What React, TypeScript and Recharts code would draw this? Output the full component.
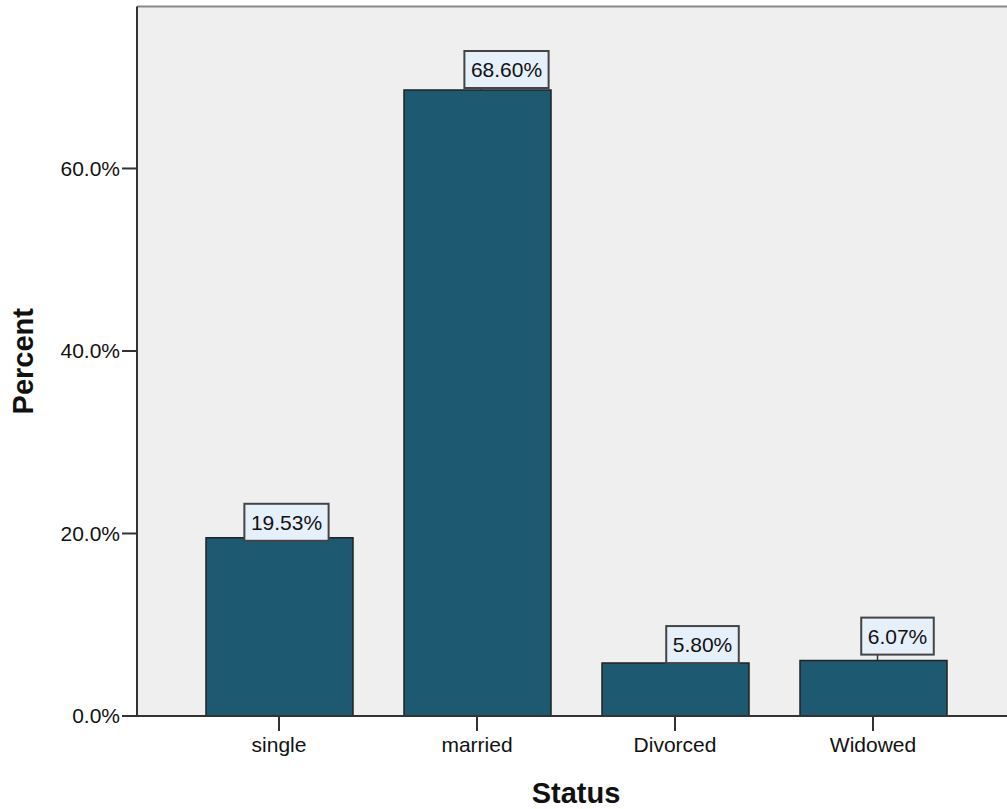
import { Bar, BarChart, CartesianGrid, LabelList, ReferenceLine, XAxis, YAxis } from 'recharts'

const categories = ['single', 'married', 'Divorced', 'Widowed']
const percents = [19.53, 68.6, 5.8, 6.07]
const yTicks = [0, 20, 40, 60]
const yMax = 77.75

const data = categories.map((status, i) => ({ status, percent: percents[i] }))

// where each value box sits: centre shift from the bar centre, gap above the bar top
const labelNudge = [
  { dx: 7, gap: -3 },
  { dx: 29, gap: 2 },
  { dx: 27, gap: 0 },
  { dx: 24, gap: 6 },
]

const FONT = '"Liberation Sans", Arial, sans-serif'
const BAR_FILL = '#1D5A72'
const INK = '#111'

const textWidth = (s: string, size: number) => {
  const ctx = document.createElement('canvas').getContext('2d')
  if (ctx) {
    ctx.font = `${size}px ${FONT}`
    return ctx.measureText(s).width
  }
  return s.length * size * 0.56
}

const BoxLabel = (props: any) => {
  const vb = props.viewBox ?? props
  const x = vb.x ?? props.x
  const y = vb.y ?? props.y
  const width = vb.width ?? props.width
  const index = props.index ?? 0
  const label = `${Number(props.value).toFixed(2)}%`
  const { dx, gap } = labelNudge[index] ?? { dx: 0, gap: 0 }
  const cx = x + width / 2
  const w = textWidth(label, 21) + 13
  const h = 37
  const bottom = y - gap
  return (
    <g>
      {gap > 0 && <line x1={cx + 4} y1={y} x2={cx + 4} y2={bottom} stroke="#333" strokeWidth={1.5} />}
      <rect x={cx + dx - w / 2} y={bottom - h} width={w} height={h} fill="#E6F0FA" stroke="#444" strokeWidth={2} />
      <text x={cx + dx} y={bottom - h / 2} dy="0.36em" textAnchor="middle" fontSize={21} fontFamily={FONT} fill={INK}>
        {label}
      </text>
    </g>
  )
}

const YTitle = (props: any) => {
  const vb = props.viewBox
  const cy = vb.y + vb.height / 2
  return (
    <text x={33} y={cy} transform={`rotate(-90, 33, ${cy})`} textAnchor="middle" fontSize={29} fontWeight="bold" fontFamily={FONT} fill={INK}>
      Percent
    </text>
  )
}

const XTitle = (props: any) => {
  const vb = props.viewBox
  return (
    <text x={vb.x + vb.width / 2} y={803} textAnchor="middle" fontSize={29} fontWeight="bold" fontFamily={FONT} fill={INK}>
      Status
    </text>
  )
}

const App = () => {
  return (
    <div style={{ position: 'absolute', left: 0, top: 0, width: 1007, height: 809, overflow: 'hidden', background: '#fff' }}>
      <BarChart width={1016} height={809} data={data} margin={{ top: 6.5, right: 1, bottom: 0, left: 0 }} barSize={147}>
        <CartesianGrid fill="#EFEFEF" horizontal={false} vertical={false} />
        <ReferenceLine y={yMax} stroke="#8a8a8a" strokeWidth={2} />
        <XAxis
          dataKey="status"
          height={93}
          padding={{ left: 43, right: 43 }}
          tickSize={15}
          tickMargin={6}
          axisLine={{ stroke: '#333', strokeWidth: 2 }}
          tickLine={{ stroke: '#333', strokeWidth: 2 }}
          tick={{ fontSize: 21, fill: INK, fontFamily: FONT }}
          label={XTitle}
        />
        <YAxis
          width={137}
          domain={[0, yMax]}
          ticks={yTicks}
          tickSize={15}
          tickMargin={2}
          tickFormatter={(v: number) => `${v.toFixed(1)}%`}
          axisLine={{ stroke: '#333', strokeWidth: 2 }}
          tickLine={{ stroke: '#333', strokeWidth: 2 }}
          tick={{ fontSize: 21, fill: INK, fontFamily: FONT }}
          label={YTitle}
        />
        <Bar dataKey="percent" fill={BAR_FILL} stroke="#222" strokeWidth={1.5} isAnimationActive={false}>
          <LabelList dataKey="percent" content={BoxLabel} />
        </Bar>
      </BarChart>
    </div>
  )
}

export default App
